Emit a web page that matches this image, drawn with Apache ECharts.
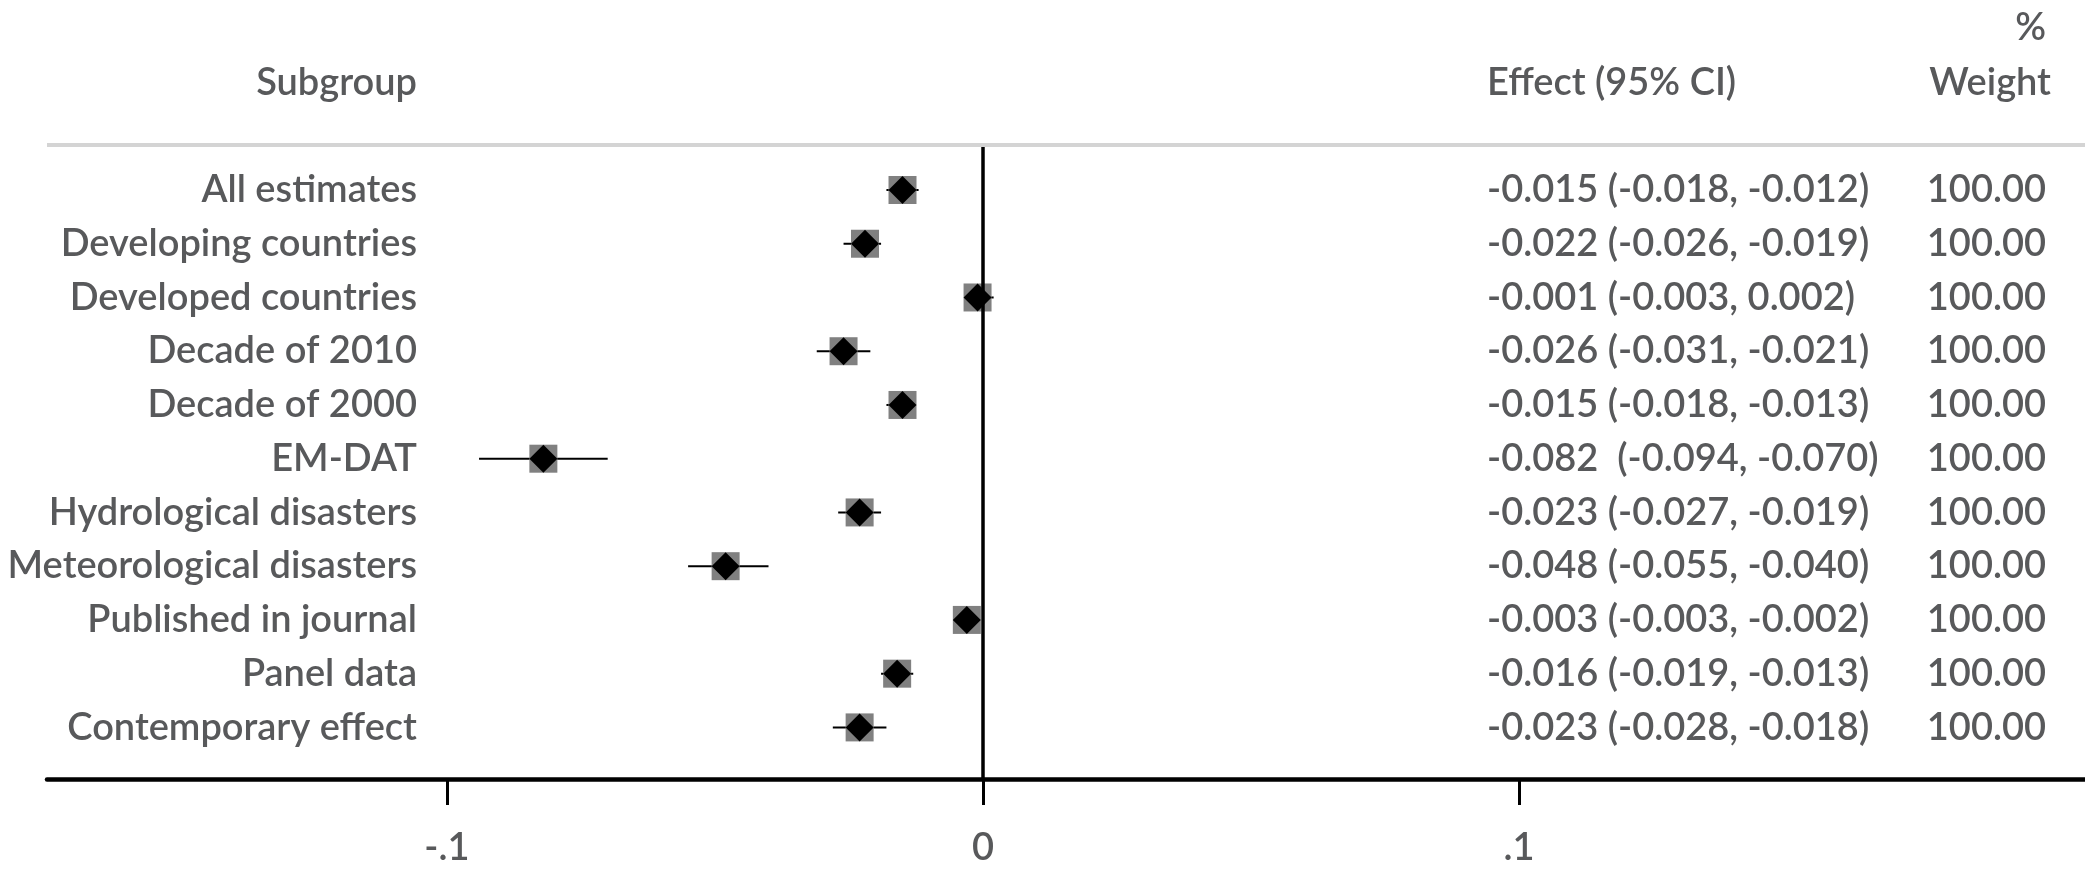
<!DOCTYPE html>
<html>
<head>
<meta charset="utf-8">
<script src="https://cdn.jsdelivr.net/npm/echarts@6/dist/echarts.min.js"></script>
<style>
html,body{margin:0;padding:0;background:#fff;}
#chart{width:2085px;height:870px;}
</style>
</head>
<body>
<div id="chart"></div>
<script>
var categories = ["All estimates","Developing countries","Developed countries","Decade of 2010","Decade of 2000","EM-DAT","Hydrological disasters","Meteorological disasters","Published in journal","Panel data","Contemporary effect"];
var effect = [-0.015,-0.022,-0.001,-0.026,-0.015,-0.082,-0.023,-0.048,-0.003,-0.016,-0.023];
var lower  = [-0.018,-0.026,-0.003,-0.031,-0.018,-0.094,-0.027,-0.055,-0.003,-0.019,-0.028];
var upper  = [-0.012,-0.019, 0.002,-0.021,-0.013,-0.070,-0.019,-0.040,-0.002,-0.013,-0.018];
var ciText = ["-0.015 (-0.018, -0.012)","-0.022 (-0.026, -0.019)","-0.001 (-0.003, 0.002)","-0.026 (-0.031, -0.021)","-0.015 (-0.018, -0.013)","-0.082  (-0.094, -0.070)","-0.023 (-0.027, -0.019)","-0.048 (-0.055, -0.040)","-0.003 (-0.003, -0.002)","-0.016 (-0.019, -0.013)","-0.023 (-0.028, -0.018)"];
var weights = ["100.00","100.00","100.00","100.00","100.00","100.00","100.00","100.00","100.00","100.00","100.00"];
var xTicks = [-0.1, 0, 0.1];
var xTickLabels = ["-.1","0",".1"];

var FONT = 'Lato';
var TXT = '#58595b';
var FS = 38;
var FW = 600;
var rowIdx = categories.map(function(_, i){ return i; });

var yBase = {type:'value', min:-0.8, max:10.96, inverse:true,
  axisLine:{show:false}, axisTick:{show:false}, splitLine:{show:false}};
function yAxisWith(extra){ return Object.assign({}, yBase, extra); }
function lab(extra){ return Object.assign({show:true, customValues:rowIdx, margin:0, fontFamily:FONT, fontSize:FS, fontWeight:FW, color:TXT}, extra); }

var chart = echarts.init(document.getElementById('chart'), null, {renderer:'canvas'});
var option = {
  backgroundColor:'#ffffff',
  animation:false,
  grid:{left:47, right:0, top:147, bottom:91},
  xAxis:{type:'value', min:-0.1746, max:0.2056, position:'bottom',
    axisLine:{show:true, onZero:false, lineStyle:{color:'#000', width:4.5}},
    axisTick:{show:true, length:26, customValues:xTicks, lineStyle:{color:'#000', width:3}},
    axisLabel:{show:true, customValues:xTicks, margin:50, fontFamily:FONT, fontSize:FS, fontWeight:FW, color:TXT,
      formatter:function(v){ var i = xTicks.indexOf(Math.round(v*10)/10); return i>=0 ? xTickLabels[i] : ''; }},
    splitLine:{show:false}},
  yAxis:[
    yAxisWith({position:'left', axisLabel:{show:false}}),
    yAxisWith({position:'left', offset:-370,
      axisLabel:lab({formatter:function(v){ return categories[Math.round(v)]; }})}),
    yAxisWith({position:'right', offset:-598,
      axisLabel:lab({formatter:function(v){ return ciText[Math.round(v)]; }})}),
    yAxisWith({position:'right', offset:-39,
      axisLabel:lab({align:'right', formatter:function(v){ return weights[Math.round(v)]; }})})
  ],
  graphic:[
    {type:'line', shape:{x1:47, y1:145, x2:2085, y2:145}, style:{stroke:'#d4d4d4', lineWidth:4}},
    {type:'text', x:417, y:83, style:{text:'Subgroup', textAlign:'right', textVerticalAlign:'middle', font:FW+' '+FS+'px '+FONT, fill:TXT}},
    {type:'text', x:1487, y:83, style:{text:'Effect (95% CI)', textAlign:'left', textVerticalAlign:'middle', font:FW+' '+FS+'px '+FONT, fill:TXT}},
    {type:'text', x:2051, y:83, style:{text:'Weight', textAlign:'right', textVerticalAlign:'middle', font:FW+' '+FS+'px '+FONT, fill:TXT}},
    {type:'text', x:2046, y:28, style:{text:'%', textAlign:'right', textVerticalAlign:'middle', font:FW+' '+FS+'px '+FONT, fill:TXT}}
  ],
  series:[
    {type:'custom', z:2, silent:true,
      data: rowIdx.map(function(i){ return [lower[i], upper[i], i]; }),
      encode:{x:[0,1], y:2},
      renderItem:function(params, api){
        var p1 = api.coord([api.value(0), api.value(2)]);
        var p2 = api.coord([api.value(1), api.value(2)]);
        return {type:'line', shape:{x1:p1[0], y1:p1[1], x2:p2[0], y2:p2[1]}, style:{stroke:'#000', lineWidth:2}};
      }},
    {type:'scatter', z:3, silent:true, symbol:'rect', symbolSize:28,
      itemStyle:{color:'#808080', opacity:1},
      data: rowIdx.map(function(i){ return [effect[i], i]; })},
    {type:'scatter', z:4, silent:true, symbol:'diamond', symbolSize:28,
      itemStyle:{color:'#000', opacity:1},
      data: rowIdx.map(function(i){ return [effect[i], i]; })},
    {type:'scatter', z:5, silent:true, data:[],
      markLine:{silent:true, symbol:['none','none'], label:{show:false},
        lineStyle:{color:'#000', width:3.5, type:'solid'},
        data:[{xAxis:0}]}}
  ]
};
chart.setOption(option);
</script>
</body>
</html>
